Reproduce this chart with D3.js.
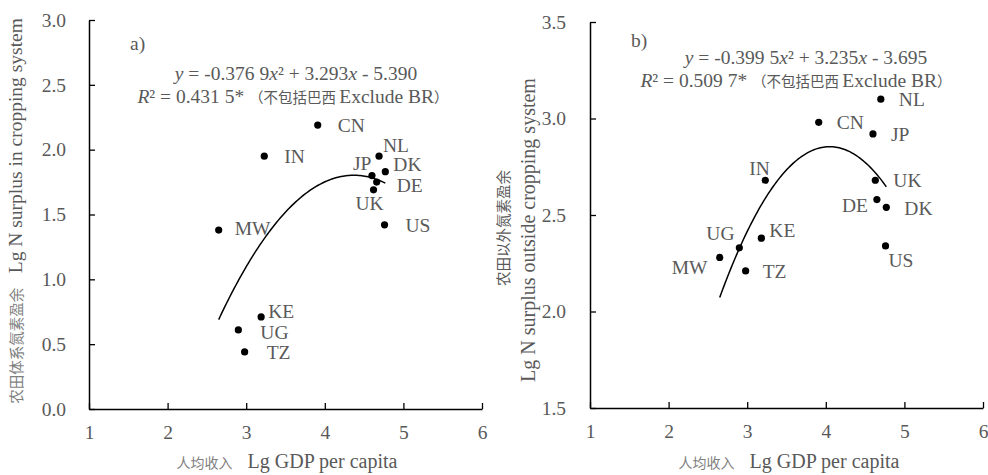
<!DOCTYPE html>
<html>
<head>
<meta charset="utf-8">
<script src="https://cdn.jsdelivr.net/npm/d3@7"></script>
<style>
  body { margin: 0; background: #fff; }
  svg { display: block; }
  text { font-family: "Liberation Serif", "Times New Roman", serif; fill: #595959; }
  .cjk { font-family: "Noto Sans CJK SC", sans-serif; }
</style>
</head>
<body>
<svg id="chart"></svg>
<script>
const W = 988, H = 475;

// countries, values
const countries = ['CN', 'IN', 'NL', 'JP', 'DK', 'DE', 'UK', 'US', 'MW', 'KE', 'UG', 'TZ'];
const gdpA = [3.91, 3.23, 4.69, 4.60, 4.77, 4.66, 4.62, 4.76, 2.65, 3.19, 2.90, 2.98];
const surplusIn = [2.19, 1.95, 1.95, 1.80, 1.83, 1.75, 1.69, 1.42, 1.38, 0.71, 0.61, 0.44];
const gdpB = [3.91, 3.23, 4.70, 4.60, 4.77, 4.65, 4.63, 4.76, 2.65, 3.18, 2.90, 2.98];
const surplusOut = [2.98, 2.68, 3.10, 2.92, 2.54, 2.58, 2.68, 2.34, 2.28, 2.38, 2.33, 2.21];

// fitted curves as printed in the chart: y = a x^2 + b x + c
const fitA = [-0.3769, 3.293, -5.390];
const fitB = [-0.3995, 3.235, -3.695];
const fitRange = [2.65, 4.77];

const xTicks = [1, 2, 3, 4, 5, 6];
const yTicksA = [0, 0.5, 1, 1.5, 2, 2.5, 3];
const yTicksB = [1.5, 2, 2.5, 3, 3.5];

// label offsets (dx, dy of baseline) per country, per panel
const labA = {
  CN: [20, 7], IN: [20, 7], NL: [4, -4], JP: [-19, -6], DK: [8, -1], DE: [20, 10],
  UK: [-18, 20], US: [21, 7], MW: [16, 5], KE: [7, 1], UG: [22, 9], TZ: [22, 7]
};
const labB = {
  CN: [18, 7], IN: [-16, -5], NL: [18, 7], JP: [18, 7], DK: [18, 8], DE: [-35, 12],
  UK: [18, 7], US: [3, 21], MW: [-48, 17], KE: [8, -1], UG: [-33, -8], TZ: [17, 7]
};

const svg = d3.select('#chart').attr('width', W).attr('height', H);

function panel(opt) {
  const x = d3.scaleLinear().domain([1, 6]).range(opt.xRange);
  const y = d3.scaleLinear().domain(opt.yDomain).range(opt.yRange);
  const g = svg.append('g');

  const xAxis = g.append('g')
    .attr('transform', `translate(0, ${opt.yRange[0]})`)
    .call(d3.axisBottom(x).tickValues(xTicks).tickFormat(d3.format('d'))
      .tickSizeInner(-6).tickSizeOuter(0).tickPadding(16));
  const yAxis = g.append('g')
    .attr('transform', `translate(${opt.xRange[0]}, 0)`)
    .call(d3.axisLeft(y).tickValues(opt.yTicks).tickFormat(d3.format('.1f'))
      .tickSizeInner(-6).tickSizeOuter(0).tickPadding(opt.yPad));
  [xAxis, yAxis].forEach(a => {
    a.attr('font-family', null).attr('font-size', null);
    a.select('.domain').attr('stroke', '#000').attr('stroke-width', 1.5);
    a.selectAll('.tick line').attr('stroke', '#000').attr('stroke-width', 1.3);
    a.selectAll('.tick text').style('font-size', '19.5px').attr('fill', '#595959');
  });

  const f = opt.fit;
  const curve = d3.range(fitRange[0], fitRange[1] + 1e-9, 0.02).map(v => [v, f[0] * v * v + f[1] * v + f[2]]);
  g.append('path')
    .datum(curve)
    .attr('fill', 'none')
    .attr('stroke', '#000')
    .attr('stroke-width', 1.5)
    .attr('d', d3.line().x(p => x(p[0])).y(p => y(p[1])));

  const pts = countries.map((c, i) => ({ c, gx: opt.xs[i], v: opt.ys[i] }));
  g.selectAll('circle').data(pts).enter().append('circle')
    .attr('cx', d => x(d.gx))
    .attr('cy', d => y(d.v))
    .attr('r', 3.6)
    .attr('fill', '#000');

  g.selectAll('text.lab').data(pts).enter().append('text')
    .attr('class', 'lab')
    .attr('x', d => x(d.gx) + opt.lab[d.c][0])
    .attr('y', d => y(d.v) + opt.lab[d.c][1])
    .style('font-size', '19.5px')
    .attr('fill', '#404040')
    .text(d => d.c);

  // panel letter
  g.append('text').attr('x', opt.letter[0]).attr('y', opt.letter[1])
    .style('font-size', '19.5px').attr('fill', '#404040').text(opt.letterText);

  // equation
  const eq = g.append('text').attr('x', opt.eq[0]).attr('y', opt.eq[1])
    .attr('text-anchor', 'middle').style('font-size', '19.5px');
  eq.append('tspan').style('font-style', 'italic').text('y');
  eq.append('tspan').text(' = ' + opt.eqA);
  eq.append('tspan').style('font-style', 'italic').text('x');
  eq.append('tspan').text('²');
  eq.append('tspan').text(' + ' + opt.eqB);
  eq.append('tspan').style('font-style', 'italic').text('x');
  eq.append('tspan').text(' - ' + opt.eqC);

  const r2 = g.append('text').attr('x', opt.r2[0]).attr('y', opt.r2[1])
    .attr('text-anchor', 'middle').style('font-size', '19.5px');
  r2.append('tspan').style('font-style', 'italic').text('R');
  r2.append('tspan').text('² = ' + opt.r2Text + '* ');
  r2.append('tspan').attr('class', 'cjk').style('font-size', '14.5px').text('（不包括巴西 ');
  r2.append('tspan').text('Exclude BR');
  r2.append('tspan').attr('class', 'cjk').style('font-size', '14.5px').text('）');

  // x title
  const xt = g.append('text').attr('x', opt.xTitle[0]).attr('y', opt.xTitle[1])
    .attr('text-anchor', 'middle').style('font-size', '20px');
  xt.append('tspan').attr('class', 'cjk').style('font-size', '14px').attr('fill', '#7f7f7f').text('人均收入');
  xt.append('tspan').text('\u00a0\u00a0 Lg GDP per capita');

  return g;
}

panel({
  xRange: [89, 482], yRange: [409, 20], yDomain: [0, 3], yTicks: yTicksA, yPad: 23,
  xs: gdpA, ys: surplusIn, fit: fitA, lab: labA,
  letter: [130, 50], letterText: 'a)',
  eq: [296, 80], eqA: '-0.376 9', eqB: '3.293', eqC: '5.390',
  r2: [293, 103], r2Text: '0.431 5',
  xTitle: [287, 468]
});

panel({
  xRange: [590, 983], yRange: [408, 22], yDomain: [1.5, 3.5], yTicks: yTicksB, yPad: 24,
  xs: gdpB, ys: surplusOut, fit: fitB, lab: labB,
  letter: [631, 47], letterText: 'b)',
  eq: [806, 64], eqA: '-0.399 5', eqB: '3.235', eqC: '3.695',
  r2: [796, 87], r2Text: '0.509 7',
  xTitle: [789, 468]
});

// y titles
const ya = svg.append('text')
  .attr('transform', 'translate(22, 211) rotate(-90)')
  .attr('text-anchor', 'middle').style('font-size', '19.5px');
ya.append('tspan').attr('class', 'cjk').style('font-size', '14.5px').attr('fill', '#7f7f7f').text('农田体系氮素盈余');
ya.append('tspan').text('\u00a0\u00a0 Lg N surplus in cropping system');

svg.append('text')
  .attr('class', 'cjk')
  .attr('transform', 'translate(509, 228) rotate(-90)')
  .attr('text-anchor', 'middle').style('font-size', '14.5px').attr('fill', '#7f7f7f')
  .text('农田以外氮素盈余');
svg.append('text')
  .attr('transform', 'translate(535, 230) rotate(-90)')
  .attr('text-anchor', 'middle').style('font-size', '20px')
  .text('Lg N surplus outside cropping system');
</script>
</body>
</html>
